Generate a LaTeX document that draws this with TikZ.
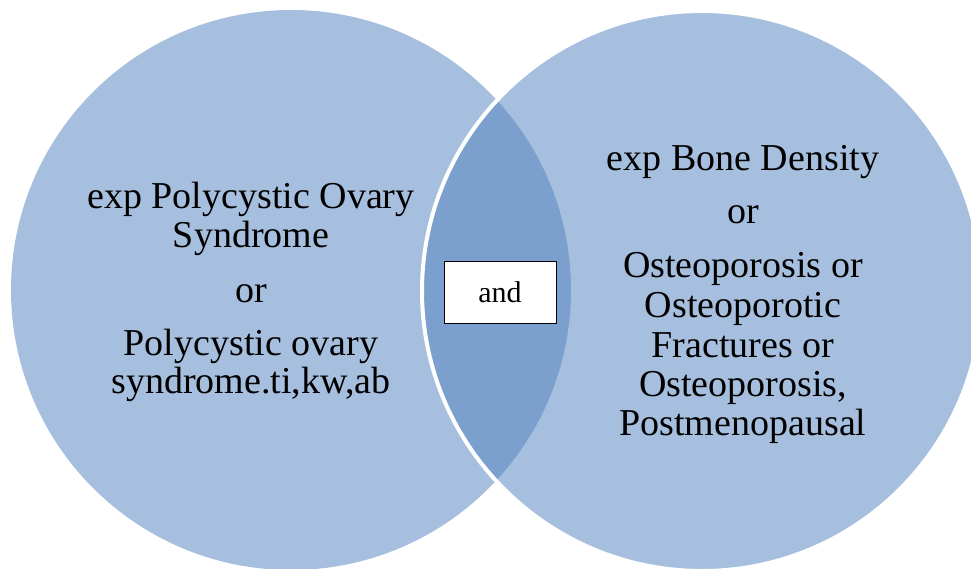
\documentclass[tikz,border=0pt]{standalone}
\usepackage{fontspec}
\setmainfont{Liberation Serif}
\definecolor{lightblue}{HTML}{A7BFDE}
\definecolor{lensblue}{HTML}{7BA0CD}
\begin{document}
\begin{tikzpicture}[x=1pt,y=-1pt,
  lbl/.style={anchor=base,inner sep=0pt,font=\fontsize{38}{39.5}\selectfont},
  andbox/.style={draw=black,line width=1pt,fill=white,minimum width=112pt,minimum height=62pt,inner sep=0pt,font=\fontsize{30}{32}\selectfont}]
\useasboundingbox (0,0) rectangle (971,568);
\clip (0,0) rectangle (971,568);
\coordinate (cl) at (291,290);
\coordinate (cr) at (702,291);
\fill[lightblue] (cl) circle[radius=280];
\fill[lightblue] (cr) circle[radius=280];
\begin{scope}
  \clip (cl) circle[radius=280];
  \fill[lensblue] (cr) circle[radius=280];
\end{scope}
\draw[white,line width=4pt] (cr) circle[radius=280];
\node[andbox] (and) at (500,292) {and};
% left texts
\node[lbl] (l1) at (251,208) {exp Polycystic Ovary};
\node[lbl] (l2) at (251,247) {Syndrome};
\node[lbl] (l3) at (251,302) {or};
\node[lbl] (l4) at (251,355) {Polycystic ovary};
\node[lbl] (l5) at (251,393) {syndrome.ti,kw,ab};
% right texts
\node[lbl] (r1) at (743,170) {exp Bone Density};
\node[lbl] (r2) at (743,223) {or};
\node[lbl] (r3) at (743,277) {Osteoporosis or};
\node[lbl] (r4) at (743,317) {Osteoporotic};
\node[lbl] (r5) at (743,357) {Fractures or};
\node[lbl] (r6) at (743,396) {Osteoporosis,};
\node[lbl] (r7) at (743,435) {Postmenopausal};
\end{tikzpicture}
\end{document}
